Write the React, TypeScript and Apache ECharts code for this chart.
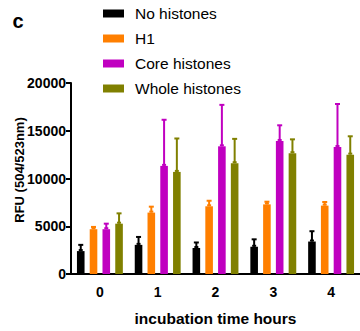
import React, { useEffect, useRef } from "react";
import * as echarts from "echarts";

const categories = ["0", "1", "2", "3", "4"];
const seriesNames = ["No histones", "H1", "Core histones", "Whole histones"];
const noHistones = [2400, 3050, 2720, 2850, 3400];
const noHistonesErr = [650, 830, 580, 780, 1080];
const h1 = [4690, 6430, 7090, 7290, 7160];
const h1Err = [240, 620, 580, 280, 380];
const core = [4690, 11320, 13370, 13930, 13300];
const coreErr = [580, 4830, 4340, 1640, 4500];
const whole = [5270, 10690, 11600, 12650, 12500];
const wholeErr = [1080, 3500, 2550, 1450, 1920];
const colors = ["#000000", "#ff7f00", "#c000c0", "#808000"];
const yMin = 0;
const yMax = 20000;
const yStep = 5000;

const values = [noHistones, h1, core, whole];
const errors = [noHistonesErr, h1Err, coreErr, wholeErr];

const FONT = "'Liberation Sans', Arial, sans-serif";
const BAR_W = 7.6;
const BAR_GAP = 0.68;

export default function App() {
  const ref = useRef<HTMLDivElement>(null);
  useEffect(() => {
    if (!ref.current) return;
    const chart = echarts.init(ref.current, undefined, { renderer: "svg" });
    const step = BAR_W * (1 + BAR_GAP);
    const barSeries = seriesNames.map((name, i) => ({
      name,
      type: "bar",
      data: values[i],
      barWidth: BAR_W,
      barGap: BAR_GAP * 100 + "%",
      itemStyle: { color: colors[i] },
      z: 3,
    }));
    const errSeries = seriesNames.map((name, i) => ({
      name: "err_" + name,
      type: "custom",
      z: 2,
      data: values[i].map((v, k) => [k, v, v + errors[i][k]]),
      renderItem: (params: any, api: any) => {
        const x = api.value(0);
        const p0 = api.coord([x, api.value(1)]);
        const p1 = api.coord([x, api.value(2)]);
        const cx = p0[0] + (i - 1.5) * step;
        return {
          type: "group",
          children: [
            {
              type: "line",
              shape: { x1: cx, y1: p0[1], x2: cx, y2: p1[1] },
              style: { stroke: colors[i], lineWidth: 2 },
            },
            {
              type: "line",
              shape: { x1: cx - 2.5, y1: p1[1], x2: cx + 2.5, y2: p1[1] },
              style: { stroke: colors[i], lineWidth: 2 },
            },
            {
              type: "line",
              shape: { x1: cx - 2, y1: p0[1] - 1, x2: cx + 2, y2: p0[1] - 1 },
              style: { stroke: colors[i], lineWidth: 2 },
            },
          ],
        };
      },
    }));
    chart.setOption({
      animation: false,
      grid: { left: 71, right: -7.5, top: 83, bottom: 56 },
      legend: {
        data: seriesNames.map((n, i) => ({ name: n, itemStyle: { color: colors[i] } })),
        orient: "vertical",
        left: 103,
        top: 5.5,
        padding: 0,
        icon: "rect",
        itemWidth: 21,
        itemHeight: 8,
        itemGap: 9,
        textStyle: { fontFamily: FONT, fontSize: 15.5, color: "#000", padding: [0, 0, 0, 6] },
      },
      xAxis: {
        type: "category",
        data: categories,
        name: "incubation time hours",
        nameLocation: "middle",
        nameGap: 36,
        nameTextStyle: { fontFamily: FONT, fontSize: 15.5, fontWeight: "bold", color: "#000" },
        axisLine: { lineStyle: { color: "#000", width: 2 } },
        axisTick: { alignWithLabel: true, length: 5, lineStyle: { color: "#000", width: 2 } },
        axisLabel: { fontFamily: FONT, fontSize: 14, fontWeight: "bold", color: "#000", margin: 11 },
      },
      yAxis: {
        type: "value",
        min: yMin,
        max: yMax,
        interval: yStep,
        splitLine: { show: false },
        axisLine: { show: true, lineStyle: { color: "#000", width: 2 } },
        axisTick: { show: true, length: 5, lineStyle: { color: "#000", width: 2 } },
        axisLabel: {
          fontFamily: FONT,
          fontSize: 14,
          fontWeight: "bold",
          color: "#000",
          margin: 5,
          formatter: (v: number) => String(v),
        },
      },
      graphic: [
        {
          type: "text",
          x: 18,
          y: 20.5,
          style: {
            text: "c",
            font: "bold 20px " + FONT,
            fill: "#000",
            align: "center",
            verticalAlign: "middle",
          },
        },
        {
          type: "text",
          x: 19,
          y: 170,
          rotation: Math.PI / 2,
          style: {
            text: "RFU (504/523nm)",
            font: "bold 13px " + FONT,
            fill: "#000",
            align: "center",
            verticalAlign: "middle",
          },
        },
      ],
      series: [...errSeries, ...barSeries],
    });
    return () => chart.dispose();
  }, []);
  return (
    <div
      ref={ref}
      style={{ position: "fixed", left: 0, top: 0, width: 360, height: 331, background: "#fff" }}
    />
  );
}
